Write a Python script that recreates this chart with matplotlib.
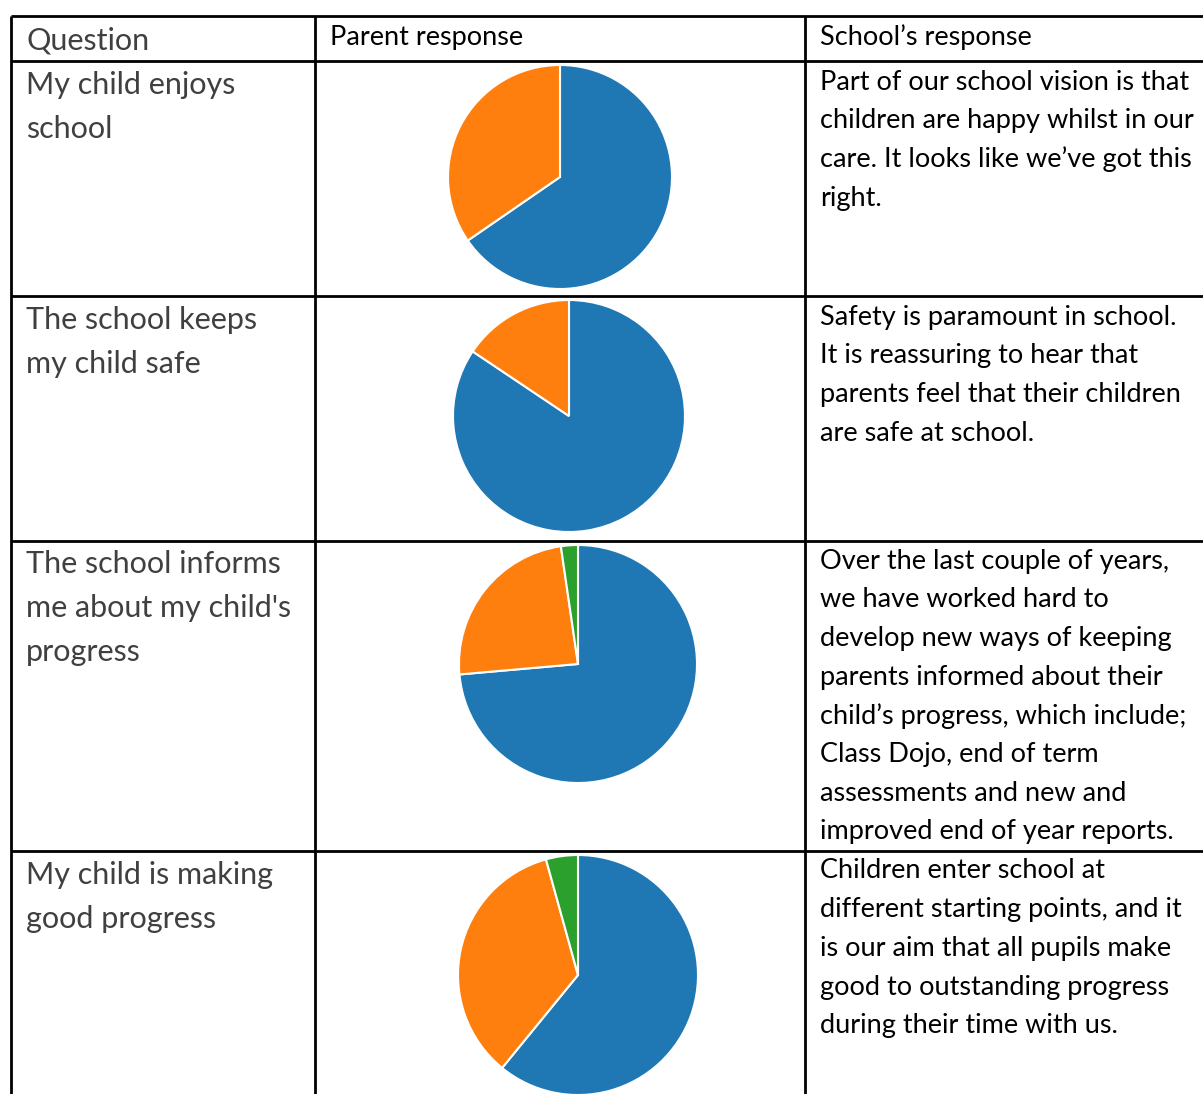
import matplotlib.pyplot as plt

# -----------------------------
# Data
# -----------------------------
header = ["Question", "Parent response", "School\u2019s response"]

questions = [
    ["My child enjoys", "school"],
    ["The school keeps", "my child safe"],
    ["The school informs", "me about my child's", "progress"],
    ["My child is making", "good progress"],
]

# pie shares (blue, orange, green), in %
enjoys_school = [65.4, 34.6]
keeps_safe = [84.4, 15.6]
informs_progress = [73.6, 24.1, 2.3]
good_progress = [60.9, 34.8, 4.3]
parent_response = [enjoys_school, keeps_safe, informs_progress, good_progress]

school_response = [
    ["Part of our school vision is that",
     "children are happy whilst in our",
     "care. It looks like we\u2019ve got this",
     "right."],
    ["Safety is paramount in school.",
     "It is reassuring to hear that",
     "parents feel that their children",
     "are safe at school."],
    ["Over the last couple of years,",
     "we have worked hard to",
     "develop new ways of keeping",
     "parents informed about their",
     "child\u2019s progress, which include;",
     "Class Dojo, end of term",
     "assessments and new and",
     "improved end of year reports."],
    ["Children enter school at",
     "different starting points, and it",
     "is our aim that all pupils make",
     "good to outstanding progress",
     "during their time with us."],
]

# -----------------------------
# Layout (pixels, y measured from the top)
# -----------------------------
W, H = 1203, 1094
col_x = [11, 315, 805]
row_y = [16, 61, 296, 541, 851]
pie_geom = [(560, 177, 112), (569, 416, 116), (578, 664, 119), (578, 975, 120)]
colors = ["#1f77b4", "#ff7f0e", "#2ca02c"]

plt.rcParams["font.family"] = ["Lato", "DejaVu Sans"]

fig = plt.figure(figsize=(W / 100, H / 100), dpi=100)
ax = fig.add_axes([0, 0, 1, 1])

# -----------------------------
# Pies
# -----------------------------
for values, (cx, cy, r) in zip(parent_response, pie_geom):
    ax.pie(values, colors=colors[:len(values)], center=(cx, H - cy), radius=r,
           startangle=90, counterclock=False,
           wedgeprops=dict(edgecolor="white", linewidth=1.5))

ax.set_xlim(0, W)
ax.set_ylim(0, H)
ax.set_aspect("auto")
ax.axis("off")

# -----------------------------
# Table grid
# -----------------------------
lw = 2
for y in row_y:
    ax.plot([col_x[0], W], [H - y, H - y], color="black", lw=lw, solid_capstyle="butt")
for x in col_x:
    ax.plot([x, x], [H - row_y[0], 0], color="black", lw=lw, solid_capstyle="butt")

# -----------------------------
# Text
# -----------------------------
q_color = "#404040"
q_size = 22
r_size = 19.5

ax.text(26, H - 40, header[0], fontsize=q_size, color=q_color, va="center")
ax.text(330, H - 37, header[1], fontsize=r_size, color="black", va="center")
ax.text(820, H - 37, header[2], fontsize=r_size, color="black", va="center")

q_first = [85, 320, 564, 875]
for lines, y0 in zip(questions, q_first):
    for i, line in enumerate(lines):
        ax.text(26, H - (y0 + i * 44), line, fontsize=q_size, color=q_color, va="center")

r_first = [82, 317, 561, 871]
for lines, y0 in zip(school_response, r_first):
    for i, line in enumerate(lines):
        ax.text(820, H - (y0 + i * 38.7), line, fontsize=r_size, color="black", va="center")

fig.savefig("out.png", dpi=100)
